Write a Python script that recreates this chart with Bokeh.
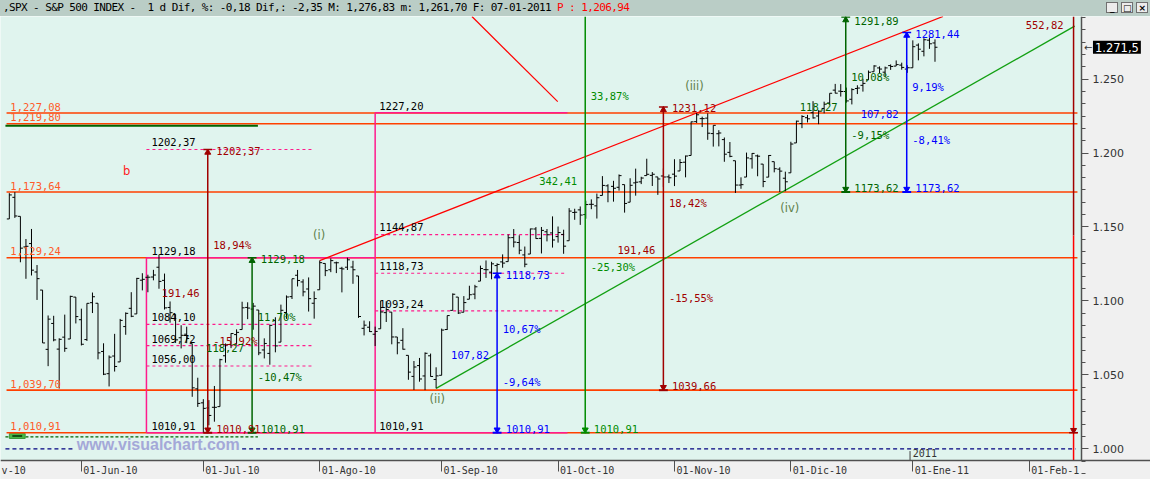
import html
import numpy as np
import pandas as pd
from bokeh.plotting import figure
from bokeh.models import Range1d, FixedTicker, Label, Div, ColumnDataSource
from bokeh.layouts import column
from bokeh.embed import file_html
from bokeh.resources import INLINE

# ---------------- data ----------------
HOLIDAYS = ["2010-05-31", "2010-07-05", "2010-09-06", "2010-11-25", "2010-12-24"]
dates = pd.bdate_range("2010-05-12", "2011-01-07", freq="C", holidays=HOLIDAYS)

opens = [1155.43, 1170.04, 1157.19, 1136.52, 1138.78, 1119.57, 1107.34, 1067.26, 1084.78, 1067.42, 1075.51, 1074.27, 1102.59,
         1087.30, 1073.89, 1098.82, 1098.43, 1065.84, 1050.81, 1062.75, 1058.77, 1082.65, 1095.00, 1091.21, 1114.02, 1115.98, 1116.16, 1122.79, 1113.90, 1095.57, 1090.93, 1075.10, 1077.50, 1071.10, 1040.56,
         1031.10, 1027.65, 1028.09, 1028.54, 1062.92, 1070.50, 1077.23, 1080.65, 1095.61, 1094.46, 1093.85, 1066.85, 1064.53, 1086.67, 1072.14, 1092.17, 1102.89, 1117.36, 1112.84, 1108.07, 1098.44,
         1107.53, 1125.34, 1121.06, 1125.78, 1122.07, 1122.80, 1122.92, 1116.89, 1081.48, 1082.22, 1077.49, 1081.16, 1092.08, 1092.44, 1075.63, 1073.36, 1063.20, 1048.98, 1056.28, 1049.27, 1062.90, 1046.88,
         1049.72, 1080.66, 1093.61, 1102.60, 1092.36, 1101.15, 1104.57, 1113.38, 1121.16, 1119.43, 1123.89, 1126.39, 1126.57, 1142.82, 1139.49, 1131.10, 1131.69, 1148.64, 1142.31, 1146.75, 1145.97,
         1143.49, 1144.96, 1140.68, 1159.81, 1161.57, 1158.36, 1165.32, 1164.28, 1171.32, 1177.82, 1177.47, 1176.83, 1178.64, 1166.74, 1179.82, 1180.52, 1184.74, 1184.88, 1183.84, 1184.47, 1183.87,
         1185.71, 1187.86, 1193.79, 1198.34, 1221.20, 1223.24, 1223.59, 1213.14, 1213.04, 1209.07, 1200.44, 1194.79, 1178.33, 1183.75, 1196.12, 1198.07, 1192.51, 1183.70, 1194.16, 1189.08, 1182.96,
         1186.60, 1206.81, 1219.93, 1223.87, 1227.25, 1225.02, 1230.14, 1233.85, 1242.52, 1241.84, 1241.58, 1236.34, 1243.63, 1245.76, 1249.43, 1254.94, 1257.53, 1254.66, 1259.10, 1258.78, 1259.44, 1256.76,
         1257.62, 1272.95, 1268.78, 1276.29, 1274.41]
highs = [1172.87, 1173.57, 1157.19, 1141.88, 1148.66, 1124.27, 1107.34, 1090.16, 1089.95, 1074.75, 1090.75, 1103.52, 1102.59,
         1094.77, 1098.42, 1105.67, 1098.43, 1071.36, 1063.15, 1077.74, 1087.85, 1092.25, 1105.91, 1115.59, 1118.74, 1117.72, 1121.01, 1131.23, 1118.50, 1099.64, 1090.93, 1083.56, 1082.60, 1071.10, 1048.08,
         1033.58, 1032.95, 1042.50, 1060.89, 1071.25, 1078.16, 1080.78, 1099.46, 1099.08, 1098.66, 1093.85, 1074.70, 1083.94, 1088.96, 1097.50, 1103.73, 1115.01, 1120.95, 1114.66, 1115.90, 1106.44,
         1127.30, 1125.44, 1128.75, 1126.56, 1123.06, 1129.24, 1127.16, 1116.89, 1086.72, 1086.25, 1082.62, 1100.14, 1099.77, 1092.44, 1075.63, 1081.58, 1063.20, 1059.38, 1061.45, 1065.21, 1064.40, 1055.14,
         1081.30, 1090.10, 1105.10, 1102.60, 1103.26, 1110.27, 1110.88, 1123.87, 1127.36, 1126.46, 1125.44, 1131.47, 1144.86, 1148.59, 1144.38, 1136.77, 1148.90, 1149.92, 1150.00, 1148.63, 1157.16,
         1150.30, 1148.16, 1162.76, 1162.33, 1163.87, 1167.73, 1168.68, 1172.58, 1184.38, 1178.89, 1181.20, 1185.53, 1178.64, 1182.94, 1189.43, 1183.93, 1196.14, 1187.11, 1183.84, 1189.53, 1185.46,
         1195.81, 1195.88, 1198.30, 1221.25, 1227.08, 1224.57, 1226.84, 1218.75, 1215.45, 1210.50, 1207.43, 1194.79, 1183.56, 1200.29, 1199.97, 1198.94, 1192.51, 1198.62, 1194.16, 1190.34, 1187.40,
         1207.61, 1221.89, 1225.57, 1225.80, 1235.05, 1228.93, 1234.71, 1240.40, 1246.73, 1246.59, 1244.25, 1243.75, 1245.81, 1250.20, 1255.82, 1259.39, 1258.59, 1258.43, 1259.90, 1262.60, 1261.09, 1259.34,
         1276.17, 1274.12, 1277.63, 1278.17, 1276.83]
lows = [1155.43, 1156.14, 1126.14, 1114.96, 1117.20, 1100.66, 1071.58, 1055.90, 1072.70, 1040.78, 1065.59, 1074.27, 1084.78,
        1069.89, 1072.94, 1091.81, 1060.50, 1049.86, 1042.17, 1052.25, 1058.77, 1077.12, 1089.03, 1091.21, 1107.13, 1105.87, 1113.93, 1108.24, 1094.18, 1085.31, 1071.60, 1067.89, 1071.45, 1035.18, 1028.33,
        1010.91, 1015.93, 1018.35, 1028.54, 1058.24, 1068.10, 1070.45, 1080.65, 1087.68, 1080.53, 1063.32, 1061.11, 1056.88, 1065.25, 1072.14, 1087.88, 1101.30, 1109.78, 1103.11, 1092.82, 1088.01,
        1107.53, 1116.76, 1119.46, 1118.81, 1105.78, 1120.91, 1111.58, 1088.55, 1076.69, 1079.00, 1069.49, 1081.16, 1085.76, 1070.66, 1063.91, 1067.08, 1046.68, 1039.83, 1045.40, 1039.70, 1048.79, 1040.88,
        1049.72, 1080.39, 1093.61, 1091.15, 1092.36, 1101.15, 1101.15, 1113.38, 1115.58, 1114.63, 1118.88, 1122.43, 1126.57, 1136.22, 1131.58, 1122.79, 1131.69, 1142.00, 1132.09, 1140.26, 1136.08,
        1139.42, 1131.87, 1140.68, 1154.85, 1151.41, 1155.58, 1162.02, 1155.71, 1171.32, 1166.71, 1167.12, 1174.55, 1159.71, 1166.74, 1171.17, 1178.99, 1184.74, 1177.72, 1171.70, 1177.10, 1179.70,
        1177.65, 1187.86, 1183.56, 1198.34, 1220.29, 1217.55, 1208.94, 1204.33, 1204.49, 1194.08, 1197.15, 1173.00, 1175.82, 1183.75, 1189.44, 1184.29, 1176.91, 1183.70, 1186.93, 1173.64, 1174.14,
        1186.60, 1206.81, 1216.82, 1220.67, 1223.25, 1219.50, 1226.85, 1232.58, 1240.34, 1238.17, 1234.01, 1232.85, 1239.87, 1241.51, 1249.43, 1254.94, 1254.05, 1251.48, 1256.22, 1258.78, 1256.32, 1254.19,
        1257.62, 1262.66, 1265.36, 1270.43, 1261.70]
closes = [1171.67, 1157.44, 1135.68, 1136.94, 1120.80, 1115.05, 1071.59, 1087.69, 1073.65, 1074.03, 1067.95, 1103.06, 1089.41,
          1070.71, 1098.38, 1102.83, 1064.88, 1050.47, 1062.00, 1055.69, 1086.84, 1091.60, 1089.63, 1115.23, 1114.61, 1116.04, 1117.51, 1113.20, 1095.31, 1092.04, 1073.69, 1076.76, 1074.57, 1041.24, 1030.71,
          1027.37, 1022.58, 1028.06, 1060.27, 1070.25, 1077.96, 1078.75, 1095.34, 1095.17, 1096.48, 1064.88, 1071.25, 1083.48, 1069.59, 1093.67, 1102.66, 1115.01, 1113.84, 1106.13, 1101.53, 1101.60,
          1125.86, 1120.46, 1127.24, 1125.81, 1121.64, 1127.79, 1121.06, 1089.47, 1083.61, 1079.25, 1079.38, 1092.54, 1094.16, 1075.63, 1071.69, 1067.36, 1051.87, 1055.33, 1047.22, 1064.59, 1048.92, 1049.33,
          1080.29, 1090.10, 1104.51, 1091.84, 1098.87, 1104.18, 1109.55, 1121.90, 1121.10, 1125.07, 1124.66, 1125.59, 1142.71, 1139.78, 1134.28, 1124.83, 1148.67, 1142.16, 1147.70, 1144.73, 1141.20,
          1146.24, 1137.03, 1160.75, 1159.97, 1158.06, 1165.15, 1165.32, 1169.77, 1178.10, 1173.81, 1176.19, 1184.71, 1165.90, 1178.17, 1180.26, 1183.08, 1185.62, 1185.64, 1182.45, 1183.78, 1183.26,
          1184.38, 1193.57, 1197.96, 1221.06, 1225.85, 1223.25, 1213.40, 1218.71, 1213.54, 1199.21, 1197.75, 1178.34, 1178.59, 1196.69, 1199.73, 1197.84, 1180.73, 1198.35, 1189.40, 1187.76, 1180.55,
          1206.07, 1221.53, 1224.71, 1223.12, 1223.75, 1228.28, 1233.00, 1240.40, 1240.46, 1241.59, 1235.23, 1242.87, 1243.91, 1247.08, 1254.60, 1258.84, 1256.77, 1257.54, 1258.51, 1259.78, 1257.88, 1257.64,
          1271.87, 1270.20, 1276.56, 1273.85, 1271.50]

x_tick_dates = ["2010-06-01", "2010-07-01", "2010-08-02", "2010-09-01", "2010-10-01",
                "2010-11-01", "2010-12-01", "2011-01-03", "2011-02-01"]
x_tick_labels = ["01-Jun-10", "01-Jul-10", "01-Ago-10", "01-Sep-10", "01-Oct-10",
                 "01-Nov-10", "01-Dic-10", "01-Ene-11", "01-Feb-1"]
first_tick_fragment = "v-10"
y_ticks = [1000, 1050, 1100, 1150, 1200, 1250]
y_tick_labels = ["1.000", "1.050", "1.100", "1.150", "1.200", "1.250"]

level_values = [1227.08, 1219.80, 1173.64, 1129.24, 1039.70, 1010.91]
level_labels = ["1,227,08", "1,219,80", "1,173,64", "1,129,24", "1,039,70", "1,010,91"]

fib1_solid = [1129.18, 1010.91]
fib1_dashed = [1202.37, 1084.10, 1069.72, 1056.00]
fib1_labels = ["1202,37", "1129,18", "1084,10", "1069,72", "1056,00", "1010,91"]
fib1_label_vals = [1202.37, 1129.18, 1084.10, 1069.72, 1056.00, 1010.91]
fib2_solid = [1227.20, 1010.91]
fib2_dashed = [1144.87, 1118.73, 1093.24]
fib2_labels = ["1227,20", "1144,87", "1118,73", "1093,24", "1010,91"]
fib2_label_vals = [1227.20, 1144.87, 1118.73, 1093.24, 1010.91]

# measurement arrows (day position, top, bottom)
meas_day = [22.8, 30.8, 75.0, 90.9, 105.0, 137.9, 148.9]
meas_top = [1202.37, 1129.18, 1118.73, 1353.32, 1231.12, 1291.89, 1281.44]
meas_bot = [1010.91, 1010.91, 1010.91, 1010.91, 1039.66, 1173.62, 1173.62]
meas_up_pct = ["18,94%", "11,70%", "10,67%", "33,87%", "18,42%", "10,08%", "9,19%"]
meas_up_y = [1138.0, 1088.9, 1081.3, 1238.6, 1166.4, 1251.5, 1244.5]
meas_diff = ["191,46", "118,27", "107,82", "342,41", "191,46", "118,27", "107,82"]
meas_diff_y = [1105.2, 1068.2, 1063.3, 1180.8, 1134.5, 1231.4, 1226.4]
meas_dn_pct = ["-15,92%", "-10,47%", "-9,64%", "-25,30%", "-15,55%", "-9,15%", "-8,41%"]
meas_dn_y = [1073.2, 1048.7, 1045.4, 1122.9, 1101.8, 1212.2, 1208.5]

wave_text = ["(i)", "(ii)", "(iii)", "(iv)"]
wave_day = [42.9, 64.2, 110.6, 127.8]
wave_val = [1144.8, 1033.5, 1245.6, 1163.1]

ch_up_day = [43, 111]
ch_up_val = [1127.30, 1227.08]
ch_lo_day = [64, 179.2]
ch_lo_val = [1040.88, 1285.8]
diag_day = [70.46, 85.94]
diag_val = [1292.3, 1234.7]

last_price = 1271.5
last_price_label = "1.271,5"

# ---------------- helpers ----------------
def day_index(d):
    return int(np.busday_count(np.datetime64("2010-06-01"), np.datetime64(d, "D"),
                               holidays=np.array(HOLIDAYS, dtype="datetime64[D]")))

def fmt(v):
    return f"{v:.2f}".replace(".", ",")

ORANGE = "#ff4000"
ORANGE_TXT = "#ff5a28"
PINK = "#ff1a8c"
DKRED = "#a00000"
DKGREEN = "#006400"
GREEN = "#008c00"
BLUE = "#0000ff"
RED = "#ff0000"
CH_GREEN = "#12a012"
WAVE = "#5f7f4a"
MONO = "DejaVu Sans Mono"
PANEL = "#f0f0f0"

XMIN = -14.59          # left edge of chart area
XAXIS = 180.43         # price-axis position (right edge of chart area)
XR = 192.88            # right edge of the window
YMIN = 992.4           # time-axis position (bottom of chart area)
YMAX = 1292.3
YB = 979.27            # bottom of the window

xs = np.array([day_index(d) for d in dates.strftime("%Y-%m-%d")], dtype=float)
src = ColumnDataSource(dict(x=xs, xl=xs - 0.45, xr=xs + 0.45, o=opens, h=highs, l=lows, c=closes))

p = figure(width=1150, height=463, x_range=Range1d(XMIN, XR), y_range=Range1d(YB, YMAX),
           output_backend="svg", toolbar_location=None, y_axis_location="right",
           min_border_left=0, min_border_right=0, min_border_top=0, min_border_bottom=0,
           background_fill_color="#e0f4ee", border_fill_color=PANEL, outline_line_color=None)
p.margin = (0, 0, 0, 0)
p.xgrid.visible = False
p.ygrid.visible = False

# side panels (grey areas for the axes)
p.quad(left=[XMIN], right=[XR], bottom=[YB], top=[YMIN], fill_color=PANEL, line_color=None)
p.quad(left=[XAXIS], right=[XR], bottom=[YMIN], top=[YMAX], fill_color=PANEL, line_color=None)

# axes (fixed inside the frame)
tick_days = [day_index(d) for d in x_tick_dates]
p.xaxis.fixed_location = YMIN
p.xaxis.ticker = FixedTicker(ticks=tick_days)
p.xaxis.major_label_overrides = {t: "" for t in tick_days}
p.xaxis.major_tick_out = 11
p.xaxis.major_tick_in = 0
p.xaxis.minor_tick_line_color = None
p.xaxis.axis_line_color = "#505050"
p.xaxis.axis_line_width = 1.5
p.xaxis.major_tick_line_color = "#505050"

minor = list(np.arange(950, 1300, 50 / 6))
p.yaxis.fixed_location = XAXIS
p.yaxis.bounds = (YMIN, YMAX)
p.yaxis.ticker = FixedTicker(ticks=y_ticks, minor_ticks=minor)
p.yaxis.major_label_overrides = dict(zip(y_ticks, y_tick_labels))
p.yaxis.major_tick_out = 7
p.yaxis.major_tick_in = 0
p.yaxis.minor_tick_out = 4
p.yaxis.minor_tick_in = 0
p.yaxis.axis_line_color = "#505050"
p.yaxis.axis_line_width = 1.5
p.yaxis.major_tick_line_color = "#505050"
p.yaxis.minor_tick_line_color = "#505050"
p.yaxis.major_label_text_font = "DejaVu Sans"
p.yaxis.major_label_text_font_size = "11px"
p.yaxis.major_label_text_color = "#333333"
p.yaxis.major_label_standoff = 4


def lab(x, y, text, color, size="10.5px", align="left", baseline="middle", font=MONO, style="normal", **kw):
    p.add_layout(Label(x=x, y=y, text=text, text_color=color, text_font_size=size, text_align=align,
                       text_baseline=baseline, text_font=font, text_font_style=style, **kw))


# time-axis labels (left aligned next to their tick)
for t, s in zip(tick_days, x_tick_labels):
    lab(t + 0.35, 985.4, s, "#333333", size="10px")
lab(XMIN + 0.2, 985.4, first_tick_fragment, "#333333", size="10px")

# dotted reference line at 1000 (interrupted by watermark)
p.segment(x0=[-13.7, 29.0], y0=[1000, 1000], x1=[-1.25, 179.36], y1=[1000, 1000],
          line_color="#000080", line_width=1.2, line_dash="4 3")
# dark green dashed & small marker
p.segment(x0=[-13.7], y0=[1008.1], x1=[31.85], y1=[1008.1], line_color=DKGREEN, line_width=1.2, line_dash="3 2")
p.quad(left=[-12.99], right=[-10.14], bottom=[1007.0], top=[1010.3], fill_color="#48b848", line_color="#3a9a3a")
p.segment(x0=[-12.46], y0=[1008.6], x1=[-10.68], y1=[1008.6], line_color="#003000", line_width=1.5)

# horizontal support/resistance levels
p.segment(x0=[-13.5] * len(level_values), y0=level_values, x1=[179.7] * len(level_values), y1=level_values,
          line_color=ORANGE, line_width=1.6)
p.segment(x0=[-13.7], y0=[1218.5], x1=[31.85], y1=[1218.5], line_color=DKGREEN, line_width=2)
for v, s in zip(level_values, level_labels):
    lab(-12.81, v + 4.3, s, ORANGE_TXT)

# fibonacci 1
p.segment(x0=[11.74, 11.74], y0=fib1_solid, x1=[53.0, 53.0], y1=fib1_solid, line_color=PINK, line_width=1.5)
p.segment(x0=[11.74] * 4, y0=fib1_dashed, x1=[41.8] * 4, y1=fib1_dashed, line_color=PINK, line_width=1.2, line_dash="3 3")
p.segment(x0=[11.74], y0=[fib1_solid[0]], x1=[11.74], y1=[fib1_solid[1]], line_color=PINK, line_width=1.5)
for v, s in zip(fib1_label_vals, fib1_labels):
    lab(12.63, v + 4.8, s, "#000000")
# fibonacci 2
p.segment(x0=[53.0, 53.0], y0=fib2_solid, x1=[87.7, 87.7], y1=fib2_solid, line_color=PINK, line_width=1.5)
p.segment(x0=[53.0] * 3, y0=fib2_dashed, x1=[87.5] * 3, y1=fib2_dashed, line_color=PINK, line_width=1.2, line_dash="3 3")
p.segment(x0=[53.0], y0=[fib2_solid[0]], x1=[53.0], y1=[fib2_solid[1]], line_color=PINK, line_width=1.5)
for v, s in zip(fib2_label_vals, fib2_labels):
    lab(53.74, v + 4.8, s, "#000000")

# trend channel (upper line clipped at the top of the chart area)
slope_up = (ch_up_val[1] - ch_up_val[0]) / (ch_up_day[1] - ch_up_day[0])
up_end_day = ch_up_day[0] + (YMAX - ch_up_val[0]) / slope_up
p.line([ch_up_day[0], up_end_day], [ch_up_val[0], YMAX], line_color=RED, line_width=1.3)
p.line(ch_lo_day, ch_lo_val, line_color=CH_GREEN, line_width=1.3)
p.line(diag_day, diag_val, line_color=RED, line_width=1.2)

# OHLC bars
p.segment("x", "l", "x", "h", source=src, line_color="black", line_width=1)
p.segment("xl", "o", "x", "o", source=src, line_color="black", line_width=1)
p.segment("x", "c", "xr", "c", source=src, line_color="black", line_width=1)

# measurement arrows
meas_color = [DKRED, DKGREEN, BLUE, GREEN, DKRED, DKGREEN, BLUE]
for xd, top, bot, col, up, upy, df, dfy, dn, dny in zip(meas_day, meas_top, meas_bot, meas_color,
                                                         meas_up_pct, meas_up_y, meas_diff, meas_diff_y,
                                                         meas_dn_pct, meas_dn_y):
    vis_top = min(top, YMAX)
    p.segment([xd], [bot], [xd], [vis_top], line_color=col, line_width=1.5)
    if top <= YMAX:
        p.segment([xd - 0.8], [top], [xd + 0.8], [top], line_color=col, line_width=1.5)
        p.scatter([xd], [top - 2.0], marker="triangle", size=6, fill_color=col, line_color=col)
        lab(xd + 1.55, min(top - 1.0, YMAX - 3.2), fmt(top), col)
    p.segment([xd - 0.8], [bot], [xd + 0.8], [bot], line_color=col, line_width=2)
    p.scatter([xd], [bot + 2.0], marker="inverted_triangle", size=6, fill_color=col, line_color=col)
    lab(xd + 1.55, bot + 2.5, fmt(bot), col)
    lab(xd + 1.0, upy, up, col)
    lab(xd - 8.3, dfy, df, col)
    lab(xd + 1.0, dny, dn, col)

# right-hand projection line
p.segment([179.0], [YMAX], [179.0], [1144.3], line_color=DKRED, line_width=1.5)
p.segment([179.0], [1144.3], [179.0], [YMIN], line_color=RED, line_width=1.5)
p.segment([178.2], [1010.91], [179.8], [1010.91], line_color=DKRED, line_width=1.5)
p.scatter([179.0], [1012.6], marker="inverted_triangle", size=6, fill_color=DKRED, line_color=DKRED)
lab(177.2, 1286.6, "552,82", DKRED, align="right")

# wave labels & misc text
for t, d, v in zip(wave_text, wave_day, wave_val):
    lab(d, v, t, WAVE, size="11.5px", align="center", font="DejaVu Sans")
lab(8.19, 1187.6, "b", "#ff2020", size="11.5px", align="center", font="DejaVu Sans")
lab(13.88, 1002.9, "www.visualchart.com", "#a4a8d8", size="16px", align="center",
    font="Liberation Sans", style="bold")
p.segment([149.5], [998.5], [149.5], [YMIN], line_color="#404040", line_width=1)
lab(150.0, 997.2, "2011", "#333333", size="10px")

# last price marker on the price axis
extra = {"padding": 2} if "padding" in Label.properties() else {}
p.add_layout(Label(x=182.5, y=last_price, text=last_price_label, text_color="white", text_font="DejaVu Sans",
                   text_font_size="11.5px", text_baseline="middle", background_fill_color="black", **extra))
lab(180.9, last_price, "\u2190", "#333333", size="10px", font="DejaVu Sans")

# ---------------- header ----------------
hdr_main = ",SPX - S&P 500 INDEX -  1 d Dif, %: -0,18 Dif,: -2,35 M: 1,276,83 m: 1,261,70 F: 07-01-2011 "
hdr_red = "P : 1,206,94"
btn = ("position:absolute;top:2px;width:12px;height:11px;background:#ececec;border:1px solid #707070;"
       "font-family:'DejaVu Sans';font-size:9px;line-height:10px;text-align:center;color:#000;font-weight:bold;")
header_html = (
    '<div style="position:relative;width:1150px;height:16px;background:#bacdc6;overflow:hidden;'
    "font-family:'DejaVu Sans Mono';font-size:11px;letter-spacing:-0.6px;line-height:16px;color:#000;white-space:pre;\">"
    f'<span style="position:absolute;left:3px;top:0px;">{html.escape(hdr_main)}'
    f'<span style="color:#ff0000">{html.escape(hdr_red)}</span></span>'
    f'<span style="{btn}left:1106px;">_</span>'
    f'<span style="{btn}left:1121px;">&#9633;</span>'
    f'<span style="{btn}left:1136px;">&#215;</span>'
    "</div>"
)
header = Div(text=header_html, width=1150, height=16, margin=(0, 0, 0, 0))

layout = column(header, p, spacing=0)
open("out.html", "w").write(file_html(layout, INLINE))
